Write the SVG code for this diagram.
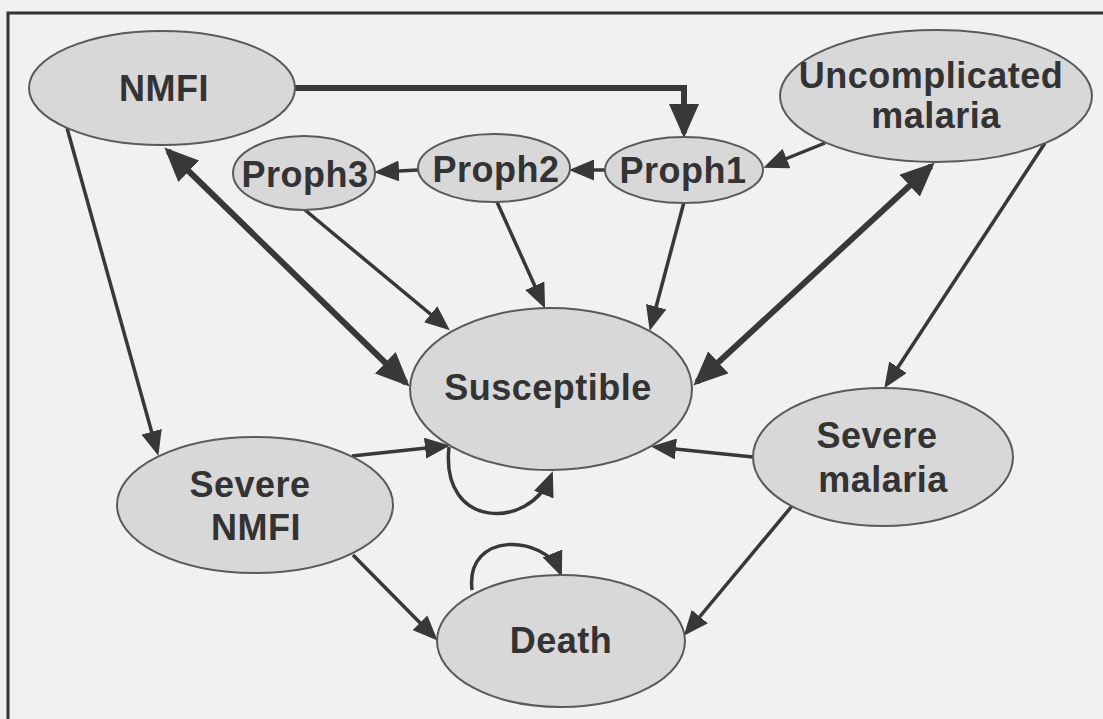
<svg xmlns="http://www.w3.org/2000/svg" width="1103" height="719" viewBox="0 0 1103 719">
<style>
.n ellipse{fill:#d8d8d8;stroke:#5a5a5a;stroke-width:2}
.n text{font-family:"Liberation Sans",Arial,sans-serif;font-weight:bold;font-size:36px;letter-spacing:0.5px;fill:#333;text-anchor:middle}
.e path{fill:none;stroke:#383838;stroke-width:3.5}
.e path.t{stroke-width:6}
</style>
<defs>
<marker id="a" markerUnits="userSpaceOnUse" markerWidth="25" markerHeight="21" refX="20" refY="10.5" orient="auto"><path d="M0,0 L25,10.5 L0,21 z" fill="#383838"/></marker>
<marker id="b" markerUnits="userSpaceOnUse" markerWidth="34" markerHeight="30" refX="29" refY="15" orient="auto-start-reverse"><path d="M0,0 L34,15 L0,30 z" fill="#383838"/></marker>
</defs>
<rect x="0" y="0" width="1103" height="719" fill="#f1f1f1"/>
<rect x="8" y="13" width="1105" height="720" fill="none" stroke="#333" stroke-width="3"/>
<g id="edges" class="e">
<path class="t" d="M295,88 H684 V133" marker-end="url(#b)"/>
<path d="M605,170 H574" marker-end="url(#a)"/>
<path d="M418,170 L379,172" marker-end="url(#a)"/>
<path d="M825,143 L768,166" marker-end="url(#a)"/>
<path class="t" d="M168,151 L406,383" marker-start="url(#b)" marker-end="url(#b)"/>
<path class="t" d="M931,166 L697,382" marker-start="url(#b)" marker-end="url(#b)"/>
<path d="M305,210 L446,327" marker-end="url(#a)"/>
<path d="M497,202 L543,304" marker-end="url(#a)"/>
<path d="M684,202 L651,326" marker-end="url(#a)"/>
<path d="M67,128 L157,451" marker-end="url(#a)"/>
<path d="M1045,143 L887,384" marker-end="url(#a)"/>
<path d="M352,456 L445,446" marker-end="url(#a)"/>
<path d="M753,457 L656,447" marker-end="url(#a)"/>
<path d="M449,447 C440,530 530,530 551,476" marker-end="url(#a)"/>
<path d="M353,555 L434,637" marker-end="url(#a)"/>
<path d="M792,506 L687,632" marker-end="url(#a)"/>
<path d="M472,590 C465,530 545,535 560,572" marker-end="url(#a)"/>
</g>
<g id="nmfi" class="n"><ellipse cx="162" cy="88" rx="133" ry="57"/><text x="164" y="101">NMFI</text></g>
<g id="proph3" class="n"><ellipse cx="304" cy="173" rx="71" ry="37"/><text x="305" y="187">Proph3</text></g>
<g id="proph2" class="n"><ellipse cx="494" cy="168" rx="76" ry="34"/><text x="496" y="182">Proph2</text></g>
<g id="proph1" class="n"><ellipse cx="684" cy="170" rx="79" ry="33"/><text x="683" y="183">Proph1</text></g>
<g id="uncomplicated" class="n"><ellipse cx="936" cy="96" rx="156" ry="66"/><text x="931" y="88">Uncomplicated</text><text x="936" y="128">malaria</text></g>
<g id="susceptible" class="n"><ellipse cx="551" cy="389" rx="141" ry="81"/><text x="548" y="400">Susceptible</text></g>
<g id="severe-nmfi" class="n"><ellipse cx="255" cy="505" rx="138" ry="68"/><text x="250" y="497">Severe</text><text x="256" y="540">NMFI</text></g>
<g id="severe-malaria" class="n"><ellipse cx="883" cy="457" rx="130" ry="69"/><text x="877" y="448">Severe</text><text x="883" y="492">malaria</text></g>
<g id="death" class="n"><ellipse cx="561" cy="641" rx="124" ry="66"/><text x="561" y="653">Death</text></g>
</svg>
